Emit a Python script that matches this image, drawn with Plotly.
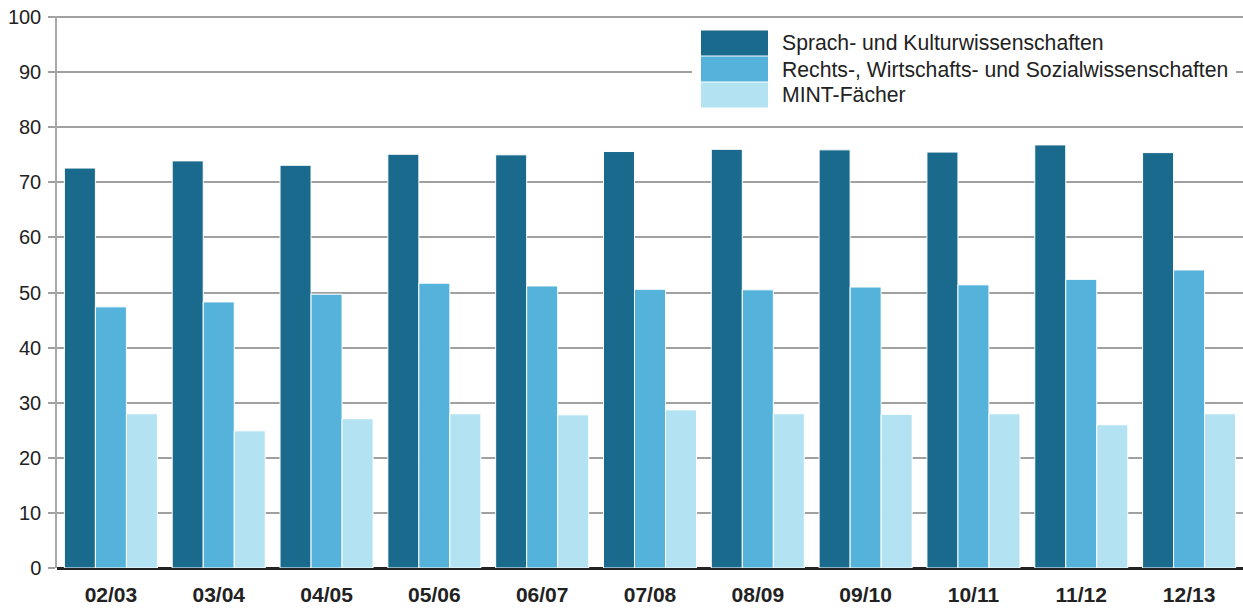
import plotly.graph_objects as go

categories = ["02/03", "03/04", "04/05", "05/06", "06/07", "07/08", "08/09", "09/10", "10/11", "11/12", "12/13"]
series_names = ["Sprach- und Kulturwissenschaften",
                "Rechts-, Wirtschafts- und Sozialwissenschaften",
                "MINT-Fächer"]
sprach = [72.6, 73.9, 73.1, 75.1, 75.0, 75.6, 76.0, 75.9, 75.5, 76.8, 75.4]
rechts = [47.4, 48.3, 49.7, 51.7, 51.2, 50.6, 50.5, 51.0, 51.4, 52.4, 54.1]
mint = [28.0, 24.9, 27.1, 28.0, 27.8, 28.7, 28.0, 27.9, 28.0, 26.0, 28.0]
y_ticks = [0, 10, 20, 30, 40, 50, 60, 70, 80, 90, 100]

colors = ["#1a6a8e", "#55b3db", "#b3e2f2"]
FONT = "Liberation Sans, Arial, Helvetica, sans-serif"

fig = go.Figure()
for name, vals, col in zip(series_names, [sprach, rechts, mint], colors):
    fig.add_trace(go.Bar(x=categories, y=vals, name=name,
                         marker=dict(color=col, line=dict(color="white", width=1)),
                         showlegend=False))

# custom legend (large swatches) in paper coordinates
# plot area spans page x 57..1243, y 16..568
shapes = []
annotations = []
PL, PR, PT, PB = 57, 1243, 16, 568
W, H = float(PR - PL), float(PB - PT)
def px(x):
    return (x - PL) / W
def py(y):
    return (PB - y) / H

shapes.append(dict(type="rect", xref="paper", yref="paper",
                   x0=px(692), x1=px(1236), y0=py(112), y1=py(26),
                   fillcolor="white", line=dict(width=0), layer="above"))
top = 30
h = 26
for i, (name, col) in enumerate(zip(series_names, colors)):
    y0 = top + i * h
    shapes.append(dict(type="rect", xref="paper", yref="paper",
                       x0=px(701), x1=px(768), y0=py(y0 + h - 0.5), y1=py(y0 + 0.5),
                       fillcolor=col, line=dict(width=0), layer="above"))
    annotations.append(dict(xref="paper", yref="paper", x=px(780), y=py(y0 + h / 2),
                            text=name, showarrow=False, xanchor="left", yanchor="middle",
                            font=dict(family=FONT, size=21.2, color="#222222")))

fig.update_layout(
    width=1243, height=610,
    margin=dict(l=PL, r=1243 - PR, t=PT, b=610 - PB, autoexpand=False),
    paper_bgcolor="white", plot_bgcolor="white",
    barmode="group", bargap=0.137, bargroupgap=0,
    font=dict(family=FONT, size=20, color="#222222"),
    shapes=shapes, annotations=annotations,
    xaxis=dict(showgrid=False, ticks="", automargin=False,
               tickfont=dict(family=FONT, size=21, color="#222222", weight="bold"),
               ticklabelstandoff=12, showline=False, zeroline=False),
    yaxis=dict(range=[0, 100.2], tickvals=y_ticks, showgrid=True, gridcolor="#a0a0a0", gridwidth=1.5,
               automargin=False, ticklabeloverflow="allow",
               ticks="outside", ticklen=7, tickcolor="#a0a0a0", tickwidth=1.5,
               showline=True, linecolor="#a8a8a8", linewidth=1.5,
               zeroline=True, zerolinecolor="#222222", zerolinewidth=2.5,
               tickfont=dict(family=FONT, size=20, color="#222222"), ticklabelstandoff=3),
)

fig.write_html("out.html", config={"displayModeBar": False},
               post_script="document.body.style.margin='0';")
